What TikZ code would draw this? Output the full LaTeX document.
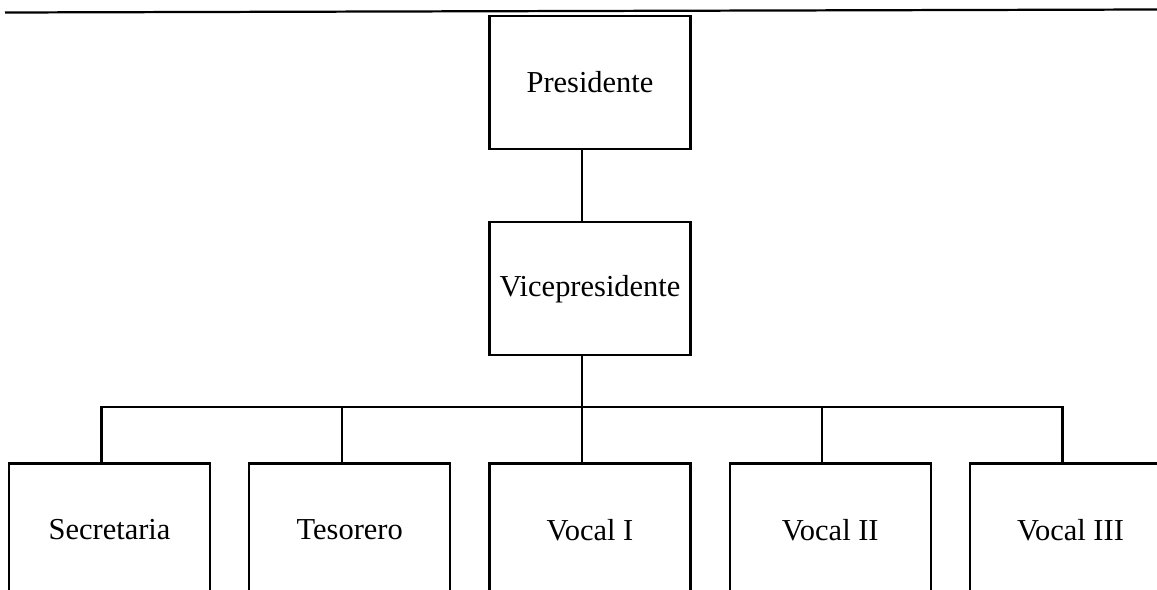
\documentclass[tikz,border=0pt]{standalone}
\usepackage{fontspec}
\setmainfont{Liberation Serif}
\usepackage{tikz}
\usetikzlibrary{positioning}

\begin{document}
\begin{tikzpicture}[x=0.03cm,y=-0.03cm,line width=1.9pt,
  cargo/.style={draw,rectangle,inner sep=0pt,minimum width=6.03cm,minimum height=3.99cm,font=\fontsize{26}{31}\selectfont},
  link/.style={-,line width=1.9pt}]
\useasboundingbox (0,0) rectangle (1157,589);
\clip (0,0) rectangle (1157,589);
\draw (5,12.5) -- (1157,9.5);
\node[cargo]   (pres)  at (590,82.5)             {Presidente};
\node[cargo]   (vice)   [below=2.13cm of pres]   {Vicepresidente};
\node[cargo]   (vocal1) [below=3.18cm of vice]   {Vocal I};
\node[cargo]   (teso)   [left=1.11cm of vocal1]  {Tesorero};
\node[cargo]   (secr)   [left=1.11cm of teso]    {Secretaria};
\node[cargo]   (vocal2) [right=1.11cm of vocal1] {Vocal II};
\node[cargo]   (vocal3) [right=1.11cm of vocal2] {Vocal III};
\path ([xshift=-0.24cm,yshift=-1.53cm]vice.south) coordinate (bus);
\draw[link] ([xshift=-0.24cm]pres.south) -- ([xshift=-0.24cm]vice.north);
\draw[link] ([xshift=-0.24cm]vice.south) -- ([xshift=-0.24cm]vocal1.north);
\draw[link] ([xshift=-0.24cm]secr.north) |- (bus) -| ([xshift=-0.24cm]vocal3.north);
\foreach \n in {teso,vocal2}
  \draw[link] ([xshift=-0.24cm]\n.north) -- ([xshift=-0.24cm]\n.north |- bus);
\end{tikzpicture}
\end{document}
